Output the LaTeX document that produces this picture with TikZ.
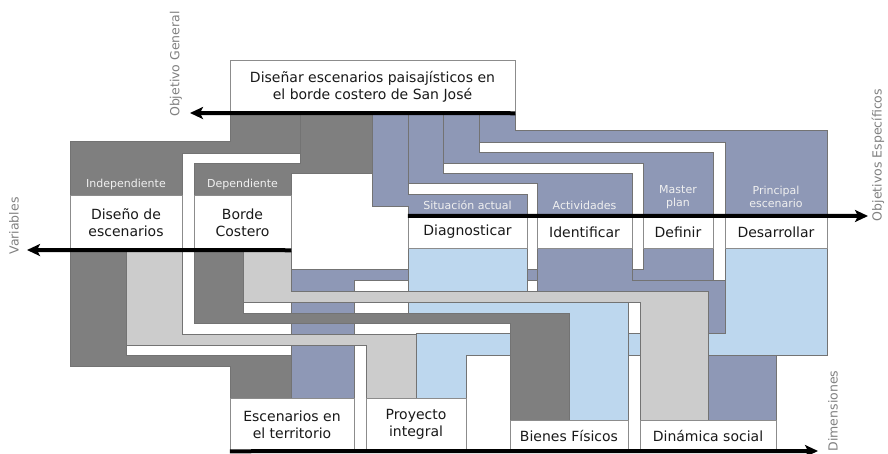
\documentclass[tikz,border=0pt]{standalone}
\usepackage{fontspec}
\setmainfont{DejaVu Sans}
\usetikzlibrary{arrows.meta}
\definecolor{grisosc}{RGB}{127,127,127}
\definecolor{grisclaro}{RGB}{204,204,204}
\definecolor{azulgris}{RGB}{142,152,182}
\definecolor{celeste}{RGB}{189,215,238}

\begin{document}
\begin{tikzpicture}[x=1pt, y=-1pt,
  band/.style={draw=black!55, line width=0.5pt},
  box/.style={draw=black!45, fill=white, line width=0.5pt, inner sep=0pt, align=center, text=black!90, font=\fontsize{14}{17}\selectfont},
  head/.style={text=white!94!black, align=center, font=\fontsize{11}{13}\selectfont},
  eje/.style={line width=4pt, -{Stealth[length=13pt, width=12pt, inset=3pt]}},
  rotulo/.style={text=black!50, rotate=90, font=\fontsize{12.5}{15}\selectfont}]
\useasboundingbox (0,0) rectangle (888,453);

\draw[band, fill=grisosc] (230,113) -- (300,113) -- (300,153) -- (182,153) -- (182,195) -- (70,195) -- (70,141) -- (230,141) -- cycle;
\draw[band, fill=grisosc] (300,113) -- (372,113) -- (372,173) -- (291,173) -- (291,195) -- (194,195) -- (194,163) -- (300,163) -- cycle;
\draw[band, fill=azulgris] (372,113) -- (408,113) -- (408,194) -- (527,194) -- (527,216) -- (408,216) -- (408,206) -- (372,206) -- cycle;
\draw[band, fill=azulgris] (408,113) -- (443,113) -- (443,173) -- (632,173) -- (632,216) -- (537,216) -- (537,183) -- (408,183) -- cycle;
\draw[band, fill=azulgris] (443,113) -- (479,113) -- (479,152) -- (713,152) -- (713,216) -- (643,216) -- (643,163) -- (443,163) -- cycle;
\draw[band, fill=azulgris] (479,113) -- (515,113) -- (515,130) -- (827,130) -- (827,216) -- (725,216) -- (725,142) -- (479,142) -- cycle;

\draw[band, fill=azulgris] (643,248) -- (713,248) -- (713,280) -- (354,280) -- (354,398) -- (291,398) -- (291,269) -- (643,269) -- cycle;
\draw[band, fill=azulgris] (537,248) -- (632,248) -- (632,280) -- (776,280) -- (776,420) -- (708,420) -- (708,333) -- (537,333) -- cycle;
\fill[white] (628,302) rectangle (640,333);
\draw[band, fill=celeste] (725,248) -- (827,248) -- (827,355) -- (466,355) -- (466,398) -- (416,398) -- (416,333) -- (725,333) -- cycle;
\draw[band, fill=celeste] (408,248) -- (527,248) -- (527,302) -- (628,302) -- (628,420) -- (569,420) -- (569,313) -- (408,313) -- cycle;

\draw[band, fill=grisosc] (70,250) -- (126,250) -- (126,355) -- (291,355) -- (291,398) -- (230,398) -- (230,366) -- (70,366) -- cycle;
\draw[band, fill=grisclaro] (126,250) -- (182,250) -- (182,334) -- (416,334) -- (416,398) -- (366,398) -- (366,345) -- (126,345) -- cycle;
\draw[band, fill=grisosc] (194,250) -- (243,250) -- (243,313) -- (569,313) -- (569,420) -- (510,420) -- (510,323) -- (194,323) -- cycle;
\draw[band, fill=grisclaro] (243,250) -- (291,250) -- (291,291) -- (708,291) -- (708,420) -- (640,420) -- (640,302) -- (243,302) -- cycle;

\node[head] (H1) at (126,184) {Independiente};
\node[head] (H2) at (242.5,184) {Dependiente};
\node[head] (H3) at (467.5,205) {Situación actual};
\node[head] (H4) at (584.5,205) {Actividades};
\node[head] (H5) at (678,197) {Master\\plan};
\node[head] (H6) at (776,197) {Principal\\escenario};

\node[box, minimum width=285pt, minimum height=53pt] (OG) at (372.5,86.5) {Diseñar escenarios paisajísticos en\\el borde costero de San José};
\node[box, minimum width=112pt, minimum height=55pt] (V1) at (126,222.5) {Diseño de\\escenarios};
\node[box, minimum width=97pt, minimum height=55pt] (V2) at (242.5,222.5) {Borde\\Costero};
\node[box, minimum width=119pt, minimum height=32pt] (O1) at (467.5,232) {Diagnosticar};
\node[box, minimum width=95pt, minimum height=32pt] (O2) at (584.5,232) {Identificar};
\node[box, minimum width=70pt, minimum height=32pt] (O3) at (678,232) {Definir};
\node[box, minimum width=102pt, minimum height=32pt] (O4) at (776,232) {Desarrollar};
\node[box, minimum width=124pt, minimum height=53pt] (D1) at (292,424.5) {Escenarios en\\el territorio};
\node[box, minimum width=100pt, minimum height=53pt] (D2) at (416,424.5) {Proyecto\\integral};
\node[box, minimum width=118pt, minimum height=31pt] (D3) at (569,435.5) {Bienes Físicos};
\node[box, minimum width=136pt, minimum height=31pt] (D4) at (708,435.5) {Dinámica social};

\coordinate (ogtip) at (190,113);
\coordinate (vartip) at (27,250);
\coordinate (objtip) at (868,216);
\coordinate (dimtip) at (818,451);
\draw[eje] (OG.south east) -- (ogtip);
\draw[eje] (V2.south east) -- (vartip);
\draw[eje] (O1.north west) -- (objtip);
\draw[eje] (D1.south west) -- (dimtip);

\node[rotulo] (R1) at (176,64) {Objetivo General};
\node[rotulo] (R2) at (14,226) {Variables};
\node[rotulo] (R3) at (878,155) {Objetivos Específicos};
\node[rotulo] (R4) at (833,411) {Dimensiones};
\end{tikzpicture}
\end{document}
